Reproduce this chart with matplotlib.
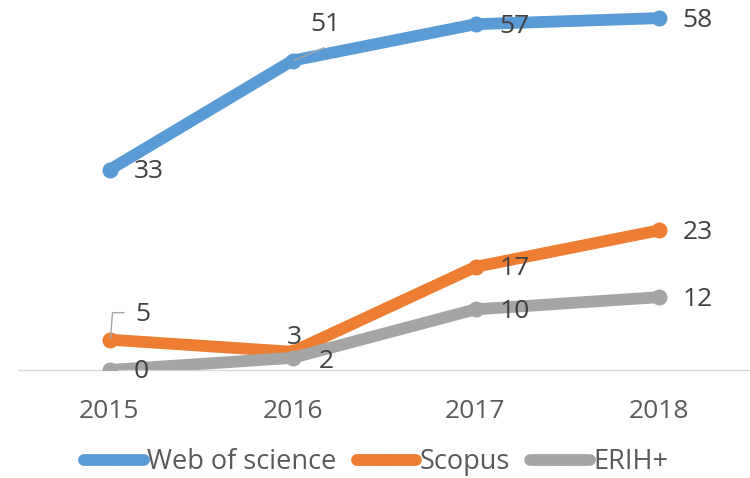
import matplotlib
matplotlib.use("Agg")
import matplotlib.pyplot as plt
from matplotlib.lines import Line2D

years = ["2015", "2016", "2017", "2018"]
wos = [33, 51, 57, 58]
scopus = [5, 3, 17, 23]
erih = [0, 2, 10, 12]
series_names = ["Web of science", "Scopus", "ERIH+"]
colors = ["#5B9BD5", "#ED7D31", "#A5A5A5"]

plt.rcParams['font.family'] = ['Open Sans', 'DejaVu Sans']

W, H = 750, 478
fig = plt.figure(figsize=(7.5, 4.78), dpi=100)
left_px, right_px, zero_px, top_px = 18, 750, 370, 6
ax = fig.add_axes([left_px / W, 1 - zero_px / H, (right_px - left_px) / W, (zero_px - top_px) / H])
ax.set_xlim(-0.5, 3.5)
ax.set_ylim(0, 60)

x = list(range(len(years)))
lw = 8.5
for vals, c in zip([wos, scopus, erih], colors):
    ax.plot(x, vals, color=c, lw=lw, solid_capstyle='round', solid_joinstyle='round',
            marker='o', markersize=10.5, markerfacecolor=c, markeredgecolor=c, zorder=3)

txt_color = "#404040"
fs = 19
leader = "#A6A6A6"

def lab(xi, v, dx, dy, ha='left'):
    ax.annotate(str(v), (xi, v), xytext=(dx, dy), textcoords='offset pixels',
                ha=ha, va='center', fontsize=fs, color=txt_color, zorder=5)

# Web of science
lab(0, wos[0], 24, -2)
lab(1, wos[1], 18, 36)
lab(2, wos[2], 24, -2)
lab(3, wos[3], 24, -2)
# Scopus
lab(0, scopus[0], 26, 25)
lab(1, scopus[1], -6, 14)
lab(2, scopus[2], 24, -2)
lab(3, scopus[3], 24, -2)
# ERIH+
lab(0, erih[0], 24, -2)
lab(1, erih[1], 26, -4)
lab(2, erih[2], 24, -2)
lab(3, erih[3], 24, -2)

# leader lines (in pixel offsets from data points)
def leader_line(xi, v, pts):
    px0, py0 = ax.transData.transform((xi, v))
    xs, ys = [], []
    for dx, dy in pts:
        xd, yd = ax.transData.inverted().transform((px0 + dx, py0 + dy))
        xs.append(xd); ys.append(yd)
    ax.plot(xs, ys, color=leader, lw=1.0, zorder=4, solid_capstyle='butt')

leader_line(1, wos[1], [(1, 0), (32, 13)])
leader_line(0, scopus[0], [(1, 1), (3, 27), (15, 27)])

for s in ['left', 'right', 'top']:
    ax.spines[s].set_visible(False)
ax.spines['bottom'].set_color('#D9D9D9')
ax.spines['bottom'].set_linewidth(1.0)
ax.set_yticks([])
ax.set_xticks(x)
ax.set_xticklabels(years, fontsize=fs, color="#595959")
ax.tick_params(axis='x', length=0, pad=21)

handles = [Line2D([0], [0], color=c, lw=lw, marker='o', markersize=7, solid_capstyle='round')
           for c in colors]
fig.legend(handles, series_names, loc='center', bbox_to_anchor=(376 / W, 1 - 462 / H),
           ncol=3, frameon=False, fontsize=19.5, labelcolor="#595959",
           handlelength=2.2, handletextpad=0.12, columnspacing=0.75, borderaxespad=0)

fig.savefig("out.png", dpi=100)
